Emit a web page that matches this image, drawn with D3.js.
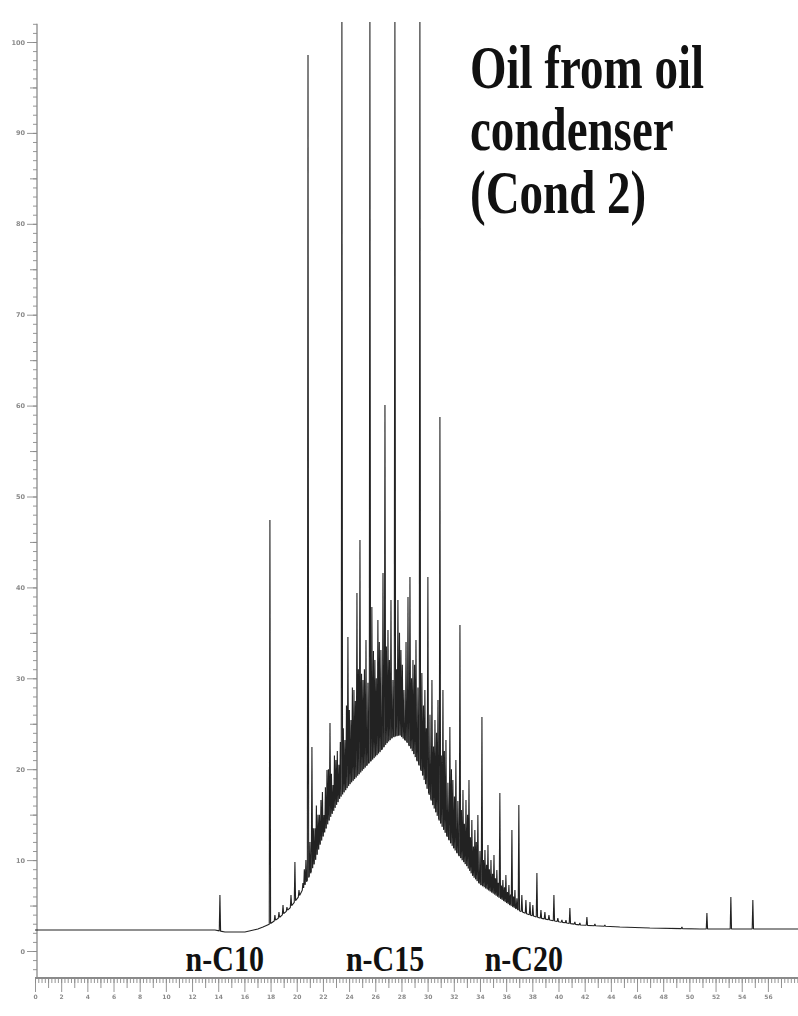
<!DOCTYPE html>
<html>
<head>
<meta charset="utf-8">
<script src="https://cdn.jsdelivr.net/npm/d3@7"></script>
<style>
  body { margin: 0; background: #fff; }
  svg { display: block; background: #fff; }
</style>
</head>
<body>
<svg width="798" height="1016"></svg>
<script>
// retention time (min) vs relative abundance (%)

// baseline + unresolved hump (lower envelope of the trace)
const baseTimes = [0, 13.75, 14.51, 16.04, 17.03, 17.42, 17.95, 18.72, 19.48, 20.24, 21.01, 21.39, 21.77,
  22.54, 23.30, 24.06, 24.83, 25.59, 26.35, 26.89, 27.35, 27.88, 28.42, 28.88, 29.41, 29.95, 30.40,
  30.94, 31.47, 31.93, 32.47, 33.00, 33.46, 33.99, 34.76, 35.52, 36.29, 37.05, 37.81, 38.58, 40.11,
  41.63, 43.16, 44.69, 46.98, 50.80, 58.3];
const baseValues = [2.31, 2.31, 2.09, 2.09, 2.42, 2.64, 2.97, 3.74, 4.73, 6.16, 8.36, 9.79, 11.66,
  14.63, 16.83, 18.37, 19.58, 20.79, 21.89, 22.88, 23.54, 23.76, 22.99, 21.89, 20.24, 17.93, 16.06,
  14.19, 12.65, 11.44, 10.34, 9.35, 8.25, 7.37, 6.60, 5.83, 5.06, 4.40, 3.96, 3.63, 3.19,
  2.86, 2.75, 2.64, 2.53, 2.42, 2.42];

// resolved peaks (the four tallest run off the top of the frame)
const peakTimes = [14.13, 17.95, 18.33, 18.64, 18.95, 19.25, 19.56, 19.86, 20.17, 20.47, 20.70, 20.86,
  21.16, 21.39, 21.62, 21.85, 22.08, 22.31, 22.54, 22.77, 22.99, 23.22, 23.45, 23.68, 23.91, 24.14,
  24.37, 24.60, 24.83, 25.06, 25.29, 25.59, 25.74, 25.97, 26.20, 26.43, 26.59, 26.74, 26.97, 27.20,
  27.35, 27.50, 27.73, 27.96, 28.19, 28.50, 28.65, 28.88, 29.11, 29.41, 29.56, 29.79, 30.02, 30.33,
  30.56, 30.79, 30.94, 31.17, 31.40, 31.70, 31.93, 32.16, 32.47, 32.70, 32.93, 33.16, 33.38, 33.61,
  33.84, 34.15, 34.38, 34.61, 34.84, 35.07, 35.29, 35.52, 35.75, 35.98, 36.21, 36.44, 36.67, 36.97,
  37.20, 37.51, 37.82, 38.04, 38.35, 38.66, 38.96, 39.27, 39.65, 39.95, 40.26, 40.57, 40.87, 41.25,
  41.63, 42.17, 42.78, 43.54, 49.43, 51.34, 53.17, 54.85];
const peakValues = [6.16, 47.41, 3.96, 4.29, 5.06, 4.84, 6.16, 9.79, 6.71, 7.48, 10.0, 98.57,
  22.44, 13.5, 15.0, 16.61, 14.96, 19.91, 25.08, 18.26, 21.01, 20.5, 102.2, 23.21, 34.54, 25.41,
  28.71, 39.38, 45.21, 29.81, 34.21, 102.2, 37.84, 32.01, 36.41, 33.11, 41.58, 60.06, 35.31, 38.61,
  29.81, 102.2, 38.61, 33.11, 28.71, 38.94, 41.14, 32.01, 34.21, 102.2, 30.58, 28.71, 41.14, 29.81,
  25.41, 27.61, 58.75, 28.71, 23.21, 24.64, 18.81, 21.01, 35.86, 17.71, 16.61, 18.81, 14.41, 13.31,
  14.96, 25.74, 11.11, 11.66, 10.01, 10.56, 8.91, 17.38, 7.81, 8.36, 7.26, 13.31, 6.71, 16.06,
  6.16, 5.61, 5.39, 5.06, 8.58, 4.51, 4.29, 3.96, 6.16, 3.63, 3.41, 3.41, 4.73, 3.19,
  3.08, 3.74, 2.97, 2.86, 2.64, 4.18, 5.94, 5.61];

// small unresolved shoulders that make up the dark band over the hump
const minorTimes = [20.58, 21.01, 21.27, 21.50, 21.73, 21.96, 22.19, 22.42, 22.65, 22.88, 23.10, 23.33,
  23.56, 23.80, 24.02, 24.25, 24.48, 24.71, 24.95, 25.17, 25.44, 25.86, 26.08, 26.31, 26.85, 27.08,
  27.62, 27.85, 28.07, 28.35, 28.77, 29.00, 29.26, 29.68, 29.90, 30.18, 30.45, 30.68, 31.05, 31.28,
  31.55, 31.82, 32.05, 32.31, 32.58, 32.81, 33.05, 33.27, 33.50, 33.72, 34.00, 34.27, 34.50, 34.72,
  34.96, 35.18, 35.40, 35.64, 35.87, 36.10, 36.33, 36.56, 36.82];
const minorValues = [9.0, 12.0, 13.5, 16.0, 15.0, 17.5, 18.0, 20.0, 19.5, 21.5, 22.0, 23.0,
  24.5, 27.0, 26.5, 29.0, 27.5, 31.0, 30.5, 31.0, 29.5, 33.0, 30.0, 34.0, 33.5, 32.0,
  31.0, 35.0, 31.5, 34.0, 30.0, 31.5, 29.0, 27.0, 24.5, 26.0, 22.5, 24.0, 21.5, 22.0,
  18.5, 20.0, 17.0, 16.5, 15.5, 14.0, 15.0, 12.5, 11.5, 12.0, 11.0, 10.0, 9.5, 9.0,
  8.5, 8.0, 7.5, 7.2, 7.0, 6.5, 6.2, 6.0, 5.8];

const xTickLabels = [0, 2, 4, 6, 8, 10, 12, 14, 16, 18, 20, 22, 24, 26, 28, 30, 32, 34, 36, 38, 40,
  42, 44, 46, 48, 50, 52, 54, 56];
const yTickLabels = [0, 10, 20, 30, 40, 50, 60, 70, 80, 90, 100];

const alkaneNames = ["n-C10", "n-C15", "n-C20"];
const alkaneTimes = [14.5, 26.75, 37.35];

const titleLines = ["Oil from oil", "condenser", "(Cond 2)"];

const svg = d3.select("svg");

// soft focus, like the scanned figure
svg.append("defs").append("filter").attr("id", "soft")
  .append("feGaussianBlur").attr("stdDeviation", 0.45);

const x = d3.scaleLinear().domain([0, 58.3]).range([35, 798]);
const y = d3.scaleLinear().domain([0, 100]).range([951, 42]);
const axisX = 37, axisY = 978;

// y axis: minor 1%, medium 5%, major 10% ticks
const gy = svg.append("g").attr("transform", `translate(${axisX},0)`).attr("filter", "url(#soft)");
gy.append("g").call(d3.axisLeft(y).tickValues(d3.range(-2, 103, 1)).tickSize(4).tickFormat(""));
gy.append("g").call(d3.axisLeft(y).tickValues(d3.range(5, 100, 10)).tickSize(7).tickFormat(""));
gy.append("g").call(d3.axisLeft(y).tickValues(yTickLabels).tickSize(10).tickPadding(2));
gy.selectAll(".domain").remove();
gy.selectAll("line").attr("stroke", "#8a8a8a").attr("stroke-width", 0.9);
gy.selectAll("text").attr("fill", "#8a8a8a").attr("font-size", 6.5)
  .attr("font-family", "DejaVu Sans").attr("font-weight", "bold");
gy.append("line").attr("y1", y(102)).attr("y2", axisY).attr("stroke", "#8a8a8a").attr("stroke-width", 1.3);

// x axis: dense minor band, 1 min and 2 min ticks
const gx = svg.append("g").attr("transform", `translate(0,${axisY})`).attr("filter", "url(#soft)");
gx.append("g").call(d3.axisBottom(x).tickValues(d3.range(0, 58.3, 0.25)).tickSize(5).tickFormat(""));
gx.append("g").call(d3.axisBottom(x).tickValues(d3.range(1, 58, 2)).tickSize(10).tickFormat(""));
gx.append("g").call(d3.axisBottom(x).tickValues(xTickLabels).tickSize(14).tickPadding(3));
gx.selectAll(".domain").remove();
gx.selectAll("line").attr("stroke", "#8a8a8a").attr("stroke-width", 0.9);
gx.selectAll("text").attr("fill", "#8a8a8a").attr("font-size", 6)
  .attr("font-family", "DejaVu Sans").attr("font-weight", "bold");
gx.append("line").attr("x1", 35).attr("x2", 798).attr("stroke", "#8a8a8a").attr("stroke-width", 2.2);

// trace: envelope with every peak rising as a narrow spike from it
const baseAt = d3.scaleLinear().domain(baseTimes).range(baseValues);
const w = 0.05;
const allTimes = peakTimes.concat(minorTimes);
const allValues = peakValues.concat(minorValues);
const pts = baseTimes
  .filter(t => !allTimes.some(p => Math.abs(p - t) <= w))
  .map(t => [t, baseAt(t)]);
allTimes.forEach((t, i) => {
  pts.push([t - w, baseAt(t - w)], [t, allValues[i]], [t + w, baseAt(t + w)]);
});
pts.sort((a, b) => a[0] - b[0]);

const line = d3.line().x(d => x(d[0])).y(d => y(d[1]));
svg.append("path")
  .datum(pts)
  .attr("fill", "none")
  .attr("stroke", "#222")
  .attr("stroke-width", 1.1)
  .attr("stroke-linejoin", "bevel")
  .attr("filter", "url(#soft)")
  .attr("d", line);

// alkane markers under the baseline
svg.selectAll(".alk")
  .data(alkaneNames)
  .enter()
  .append("text")
  .attr("class", "alk")
  .attr("transform", (d, i) => `translate(${x(alkaneTimes[i])},971) scale(1,1.18)`)
  .attr("text-anchor", "middle")
  .attr("font-family", "Liberation Serif")
  .attr("font-weight", "bold")
  .attr("font-size", 30)
  .attr("fill", "#111")
  .text(d => d);

// title block
const title = svg.append("g").attr("transform", "translate(470,88) scale(1,1.3)");
title.selectAll("text")
  .data(titleLines)
  .enter()
  .append("text")
  .attr("x", 0)
  .attr("y", (d, i) => i * 48)
  .attr("font-family", "Liberation Serif")
  .attr("font-weight", "bold")
  .attr("font-size", 47)
  .attr("fill", "#111")
  .text(d => d);
</script>
</body>
</html>
